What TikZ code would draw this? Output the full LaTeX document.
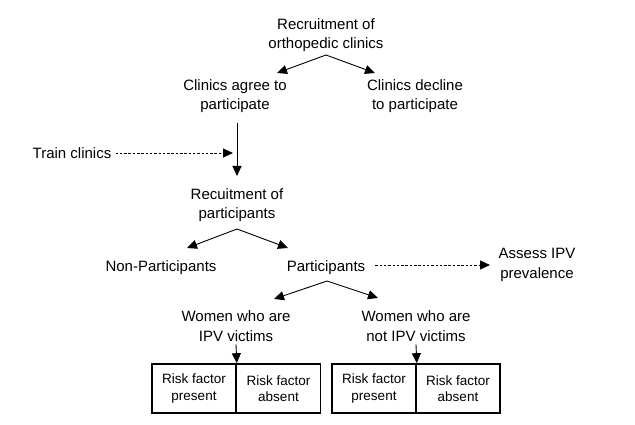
\documentclass[tikz,border=0pt]{standalone}
\usepackage{fontspec}
\setmainfont{Liberation Sans}
\usetikzlibrary{arrows.meta}
\begin{document}
\begin{tikzpicture}[x=1pt,y=-1pt,
  lbl/.style={align=center,inner sep=0pt,font=\fontsize{15}{19.5}\selectfont},
  cell/.style={draw,line width=1.6pt,minimum width=84pt,minimum height=49pt,inner sep=0pt,align=center,font=\fontsize{13.5}{16.5}\selectfont},
  arr/.style={line width=0.9pt,-{Triangle[length=10pt,width=9pt]}},
  darr/.style={line width=0.9pt,dash pattern=on 2.5pt off 1.8pt,-{Triangle[length=10pt,width=9pt]}}]
\useasboundingbox (0,0) rectangle (635,425);
% text nodes
\node[lbl] (rec) at (326,35) {Recruitment of\\orthopedic clinics};
\node[lbl] (agree) at (235,96) {Clinics agree to\\participate};
\node[lbl] (decline) at (415,96) {Clinics decline\\to participate};
\node[lbl] (train) at (72,153) {Train clinics};
\node[lbl] (recp) at (237,205) {Recuitment of\\participants};
\node[lbl] (nonp) at (161,268) {Non-Participants};
\node[lbl] (part) at (326,268) {Participants};
\node[lbl] (assess) at (537,265) {Assess IPV\\prevalence};
\node[lbl] (wiv) at (236,326) {Women who are\\IPV victims};
\node[lbl] (wniv) at (416,326) {Women who are\\not IPV victims};
% boxes
\node[cell] (b1l) at (194,388.5) {Risk factor\\present};
\node[cell] (b1r) at (278.5,388.5) {Risk factor\\absent};
\node[cell] (b2l) at (374,388.5) {Risk factor\\present};
\node[cell] (b2r) at (458,388.5) {Risk factor\\absent};
% connector points
\coordinate (a1) at (326,55);
\coordinate (t1l) at (277,73);
\coordinate (t1r) at (375,73);
\coordinate (v1s) at (237,123);
\coordinate (v1e) at (237,176);
\coordinate (a2) at (237,229);
\coordinate (t2l) at (187,248);
\coordinate (t2r) at (288,248);
\coordinate (a3) at (327,281);
\coordinate (t3l) at (274,299);
\coordinate (t3r) at (378,298);
% connectors
\draw[arr] (a1) -- (t1l);
\draw[arr] (a1) -- (t1r);
\draw[arr] (v1s) -- (v1e);
\draw[darr] (train.east) ++(4,0) -- (233,153);
\draw[arr] (a2) -- (t2l);
\draw[arr] (a2) -- (t2r);
\draw[arr] (a3) -- (t3l);
\draw[arr] (a3) -- (t3r);
\draw[darr] (part.east) ++(10,-3) -- (490,265);
\draw[arr] (wiv.south) ++(0,3) -- (b1l.north east);
\draw[arr] (wniv.south) ++(0,3) -- (b2l.north east);
\end{tikzpicture}
\end{document}
